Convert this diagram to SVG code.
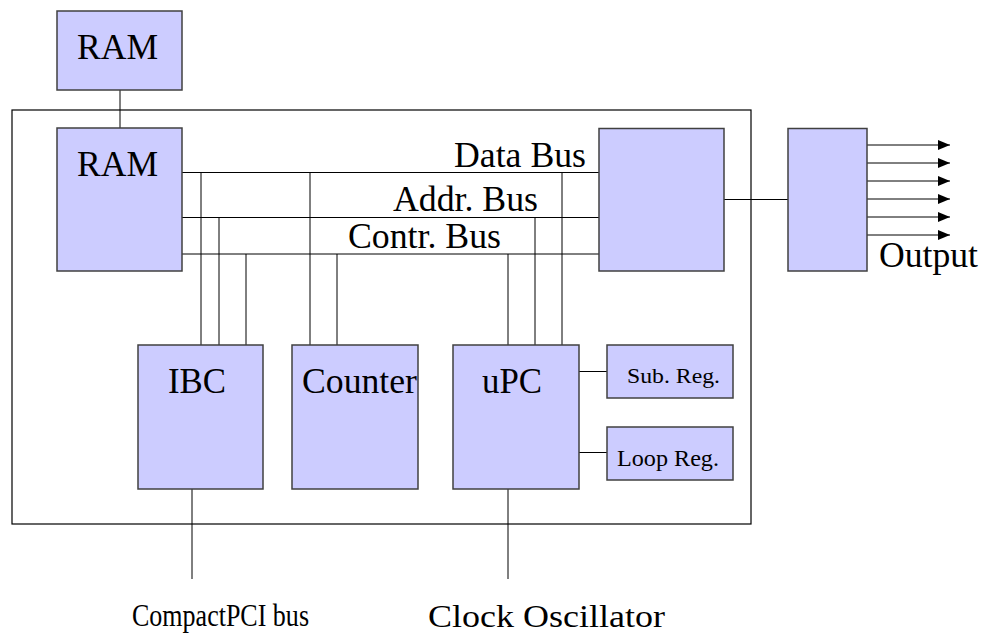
<svg xmlns="http://www.w3.org/2000/svg" width="982" height="636" viewBox="0 0 982 636">
  <defs>
    <style>
      .blk { fill: #ccccff; stroke: #404040; stroke-width: 1.5; }
      .frame { fill: none; stroke: #000; stroke-width: 1.2; }
      .wire { fill: none; stroke: #000; stroke-width: 1; }
      .lbl { font-family: "Liberation Serif", "Times New Roman", serif; fill: #000; }
      .big { font-size: 35px; }
    </style>
    <marker id="arrow" viewBox="0 0 12 10" refX="12" refY="5" markerWidth="12" markerHeight="10" markerUnits="userSpaceOnUse" orient="auto">
      <path d="M0,0 L12,5 L0,10 Z" fill="#000"/>
    </marker>
  </defs>
  <rect width="982" height="636" fill="#ffffff"/>

  <!-- board outline -->
  <rect id="board" class="frame" x="12" y="110" width="739" height="414"/>

  <!-- connectors -->
  <g id="connectors" class="wire">
    <!-- external RAM to on-board RAM -->
    <line x1="120" y1="90" x2="120" y2="128"/>
    <!-- buses -->
    <line x1="182" y1="172.5" x2="599" y2="172.5"/>
    <line x1="182" y1="217.5" x2="599" y2="217.5"/>
    <line x1="182" y1="254" x2="599" y2="254"/>
    <!-- IBC taps -->
    <line x1="201" y1="172.5" x2="201" y2="345"/>
    <line x1="219" y1="217.5" x2="219" y2="345"/>
    <line x1="246" y1="254" x2="246" y2="345"/>
    <!-- Counter taps -->
    <line x1="310" y1="172.5" x2="310" y2="345"/>
    <line x1="337" y1="254" x2="337" y2="345"/>
    <!-- uPC taps -->
    <line x1="508" y1="254" x2="508" y2="345"/>
    <line x1="535" y1="217.5" x2="535" y2="345"/>
    <line x1="562" y1="172.5" x2="562" y2="345"/>
    <!-- uPC to registers -->
    <line x1="579" y1="371.5" x2="607" y2="371.5"/>
    <line x1="579" y1="452.5" x2="607" y2="452.5"/>
    <!-- bus interface to output stage -->
    <line x1="724" y1="199.5" x2="788" y2="199.5"/>
    <!-- external links -->
    <line x1="192" y1="489" x2="192" y2="579"/>
    <line x1="508" y1="489" x2="508" y2="579"/>
    <!-- outputs -->
    <g marker-end="url(#arrow)">
      <line x1="867" y1="145" x2="950" y2="145"/>
      <line x1="867" y1="163" x2="950" y2="163"/>
      <line x1="867" y1="181" x2="950" y2="181"/>
      <line x1="867" y1="199" x2="950" y2="199"/>
      <line x1="867" y1="217" x2="950" y2="217"/>
      <line x1="867" y1="235" x2="950" y2="235"/>
    </g>
  </g>

  <!-- nodes -->
  <g id="ram-ext">
    <rect class="blk" x="57" y="11" width="125" height="79"/>
    <text class="lbl big" x="77" y="59" textLength="81" lengthAdjust="spacingAndGlyphs">RAM</text>
  </g>
  <g id="ram">
    <rect class="blk" x="57" y="128" width="125" height="143"/>
    <text class="lbl big" x="77" y="176" textLength="81" lengthAdjust="spacingAndGlyphs">RAM</text>
  </g>
  <g id="bus-labels">
    <text class="lbl big" x="454" y="167" textLength="132" lengthAdjust="spacingAndGlyphs">Data Bus</text>
    <text class="lbl big" x="393" y="211" textLength="145" lengthAdjust="spacingAndGlyphs">Addr. Bus</text>
    <text class="lbl big" x="348" y="248" textLength="153" lengthAdjust="spacingAndGlyphs">Contr. Bus</text>
  </g>
  <g id="bus-if">
    <rect class="blk" x="599" y="128.5" width="125" height="142.5"/>
  </g>
  <g id="out-stage">
    <rect class="blk" x="788" y="128.5" width="79" height="142.5"/>
    <text class="lbl big" x="879" y="267" textLength="99" lengthAdjust="spacingAndGlyphs">Output</text>
  </g>
  <g id="ibc">
    <rect class="blk" x="138" y="345" width="125" height="144"/>
    <text class="lbl big" x="168" y="393" textLength="58" lengthAdjust="spacingAndGlyphs">IBC</text>
  </g>
  <g id="counter">
    <rect class="blk" x="292" y="345" width="126" height="144"/>
    <text class="lbl big" x="302" y="393" textLength="115" lengthAdjust="spacingAndGlyphs">Counter</text>
  </g>
  <g id="upc">
    <rect class="blk" x="453" y="345" width="126" height="144"/>
    <text class="lbl big" x="482" y="393" textLength="60" lengthAdjust="spacingAndGlyphs">uPC</text>
  </g>
  <g id="sub-reg">
    <rect class="blk" x="607" y="345" width="126" height="53"/>
    <text class="lbl" font-size="21" x="627" y="383" textLength="93" lengthAdjust="spacingAndGlyphs">Sub. Reg.</text>
  </g>
  <g id="loop-reg">
    <rect class="blk" x="607" y="427" width="126" height="53"/>
    <text class="lbl" font-size="24" x="617" y="466" textLength="102" lengthAdjust="spacingAndGlyphs">Loop Reg.</text>
  </g>
  <g id="pci">
    <text class="lbl" font-size="32" x="132" y="626" textLength="177" lengthAdjust="spacingAndGlyphs">CompactPCI bus</text>
  </g>
  <g id="clock">
    <text class="lbl" font-size="32" x="428" y="627" textLength="237" lengthAdjust="spacingAndGlyphs">Clock Oscillator</text>
  </g>
</svg>
